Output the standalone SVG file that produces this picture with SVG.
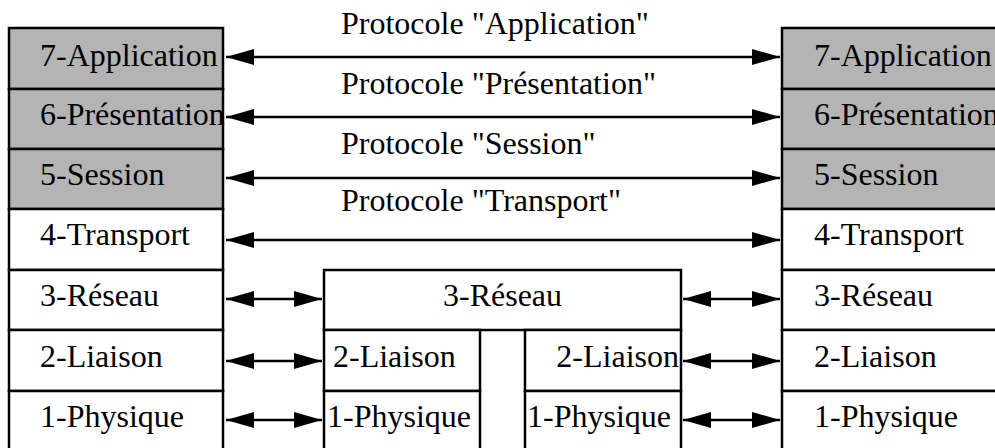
<svg xmlns="http://www.w3.org/2000/svg" width="995" height="448" viewBox="0 0 995 448">
<style>
  .box { fill: #ffffff; stroke: #000000; stroke-width: 2.5; }
  .upper { fill: #b4b4b4; stroke: #000000; stroke-width: 2.5; }
  text { font-family: "Liberation Serif", "Times New Roman", serif; font-size: 32px; fill: #000000; }
  .mid { text-anchor: middle; }
  .end { text-anchor: end; }
  .conn { stroke: #000000; stroke-width: 2.5; fill: none; marker-start: url(#head); marker-end: url(#head); }
</style>
<defs>
  <marker id="head" viewBox="0 0 28 16" refX="28" refY="8" markerWidth="28" markerHeight="16" markerUnits="userSpaceOnUse" orient="auto-start-reverse">
    <path d="M0,0 L28,8 L0,16 z" fill="#000000"/>
  </marker>
</defs>
<rect width="995" height="448" fill="#ffffff"/>

<g id="left-host">
  <g id="left-7"><rect class="upper" x="9" y="28" width="214" height="61"/><text x="40" y="66">7-Application</text></g>
  <g id="left-6"><rect class="upper" x="9" y="89" width="214" height="60"/><text x="40" y="125">6-Présentation</text></g>
  <g id="left-5"><rect class="upper" x="9" y="149" width="214" height="60"/><text x="40" y="185">5-Session</text></g>
  <g id="left-4"><rect class="box" x="9" y="209" width="214" height="61"/><text x="40" y="245">4-Transport</text></g>
  <g id="left-3"><rect class="box" x="9" y="270" width="214" height="60"/><text x="40" y="306">3-Réseau</text></g>
  <g id="left-2"><rect class="box" x="9" y="330" width="214" height="61"/><text x="40" y="367">2-Liaison</text></g>
  <g id="left-1"><rect class="box" x="9" y="391" width="214" height="62"/><text x="40" y="427">1-Physique</text></g>
</g>

<g id="right-host">
  <g id="right-7"><rect class="upper" x="782" y="28" width="220" height="61"/><text x="814" y="66">7-Application</text></g>
  <g id="right-6"><rect class="upper" x="782" y="89" width="220" height="60"/><text x="814" y="125">6-Présentation</text></g>
  <g id="right-5"><rect class="upper" x="782" y="149" width="220" height="60"/><text x="814" y="185">5-Session</text></g>
  <g id="right-4"><rect class="box" x="782" y="209" width="220" height="61"/><text x="814" y="245">4-Transport</text></g>
  <g id="right-3"><rect class="box" x="782" y="270" width="220" height="60"/><text x="814" y="306">3-Réseau</text></g>
  <g id="right-2"><rect class="box" x="782" y="330" width="220" height="61"/><text x="814" y="367">2-Liaison</text></g>
  <g id="right-1"><rect class="box" x="782" y="391" width="220" height="62"/><text x="814" y="427">1-Physique</text></g>
</g>

<g id="router">
  <g id="router-3"><rect class="box" x="324" y="270" width="357" height="60"/><text class="mid" x="502.5" y="306">3-Réseau</text></g>
  <g id="router-2a"><rect class="box" x="324" y="330" width="156" height="61"/><text x="333" y="367">2-Liaison</text></g>
  <g id="router-1a"><rect class="box" x="324" y="391" width="156" height="62"/><text x="327" y="427">1-Physique</text></g>
  <g id="router-2b"><rect class="box" x="525" y="330" width="156" height="61"/><text class="end" x="679" y="367">2-Liaison</text></g>
  <g id="router-1b"><rect class="box" x="525" y="391" width="156" height="62"/><text x="527" y="427">1-Physique</text></g>
</g>

<g id="connectors">
  <line class="conn" x1="226" y1="57" x2="780" y2="57"/>
  <line class="conn" x1="226" y1="117" x2="780" y2="117"/>
  <line class="conn" x1="226" y1="178" x2="780" y2="178"/>
  <line class="conn" x1="226" y1="240" x2="780" y2="240"/>
  <line class="conn" x1="226" y1="299" x2="322" y2="299"/>
  <line class="conn" x1="226" y1="361" x2="322" y2="361"/>
  <line class="conn" x1="226" y1="420" x2="322" y2="420"/>
  <line class="conn" x1="683" y1="299" x2="780" y2="299"/>
  <line class="conn" x1="683" y1="361" x2="780" y2="361"/>
  <line class="conn" x1="683" y1="420" x2="780" y2="420"/>
  <text x="341" y="34">Protocole "Application"</text>
  <text x="341" y="94">Protocole "Présentation"</text>
  <text x="341" y="154">Protocole "Session"</text>
  <text x="341" y="211">Protocole "Transport"</text>
</g>
</svg>
